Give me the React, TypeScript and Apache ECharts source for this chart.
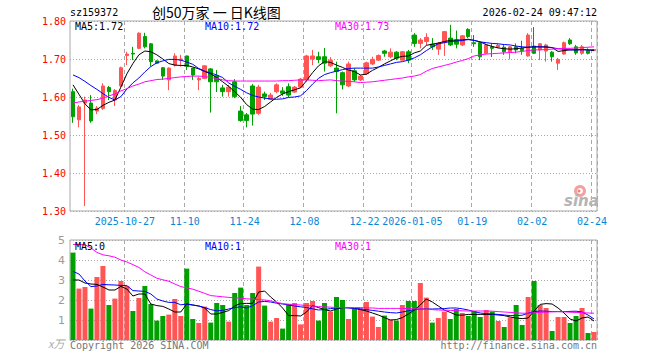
import React, { useEffect, useRef } from 'react';
import * as echarts from 'echarts';

const MONO = '"DejaVu Sans Mono", monospace';

const dates = [
  '2025-10-14', '2025-10-15', '2025-10-16', '2025-10-17', '2025-10-20', '2025-10-21', '2025-10-22', '2025-10-23', '2025-10-24',
  '2025-10-27', '2025-10-28', '2025-10-29', '2025-10-30', '2025-10-31', '2025-11-03', '2025-11-04', '2025-11-05', '2025-11-06', '2025-11-07',
  '2025-11-10', '2025-11-11', '2025-11-12', '2025-11-13', '2025-11-14', '2025-11-17', '2025-11-18', '2025-11-19', '2025-11-20', '2025-11-21',
  '2025-11-24', '2025-11-25', '2025-11-26', '2025-11-27', '2025-11-28', '2025-12-01', '2025-12-02', '2025-12-03', '2025-12-04', '2025-12-05',
  '2025-12-08', '2025-12-09', '2025-12-10', '2025-12-11', '2025-12-12', '2025-12-15', '2025-12-16', '2025-12-17', '2025-12-18', '2025-12-19',
  '2025-12-22', '2025-12-23', '2025-12-24', '2025-12-25', '2025-12-26', '2025-12-29', '2025-12-30', '2025-12-31',
  '2026-01-05', '2026-01-06', '2026-01-07', '2026-01-08', '2026-01-09', '2026-01-12', '2026-01-13', '2026-01-14', '2026-01-15', '2026-01-16',
  '2026-01-19', '2026-01-20', '2026-01-21', '2026-01-22', '2026-01-23', '2026-01-26', '2026-01-27', '2026-01-28', '2026-01-29', '2026-01-30',
  '2026-02-02', '2026-02-03', '2026-02-04', '2026-02-05', '2026-02-06', '2026-02-09', '2026-02-10', '2026-02-11', '2026-02-12', '2026-02-13',
  '2026-02-24',
];

const tickDates = ['2025-10-27', '2025-11-10', '2025-11-24', '2025-12-08', '2025-12-22', '2026-01-05', '2026-01-19', '2026-02-02', '2026-02-24'];
const tickLabels = ['2025-10-27', '11-10', '11-24', '12-08', '12-22', '2026-01-05', '01-19', '02-02', '02-24'];

// [open, close, low, high]
const candles = [
  [1.614, 1.548, 1.532, 1.622], [1.540, 1.574, 1.520, 1.579], [1.584, 1.592, 1.313, 1.601], [1.584, 1.537, 1.532, 1.605],
  [1.563, 1.571, 1.555, 1.576], [1.570, 1.629, 1.566, 1.636], [1.625, 1.614, 1.592, 1.629], [1.592, 1.617, 1.576, 1.621],
  [1.629, 1.677, 1.626, 1.680], [1.709, 1.713, 1.684, 1.719], [1.715, 1.713, 1.697, 1.732], [1.728, 1.768, 1.726, 1.770],
  [1.759, 1.732, 1.728, 1.769], [1.740, 1.693, 1.680, 1.742], [1.695, 1.689, 1.687, 1.697], [1.677, 1.655, 1.645, 1.679],
  [1.645, 1.676, 1.618, 1.678], [1.684, 1.708, 1.680, 1.715], [1.697, 1.700, 1.680, 1.711], [1.708, 1.680, 1.671, 1.709],
  [1.676, 1.658, 1.645, 1.676], [1.645, 1.649, 1.618, 1.654], [1.649, 1.682, 1.647, 1.684], [1.674, 1.640, 1.559, 1.676],
  [1.656, 1.640, 1.613, 1.671], [1.624, 1.614, 1.601, 1.632], [1.614, 1.626, 1.601, 1.632], [1.640, 1.601, 1.597, 1.647],
  [1.563, 1.538, 1.535, 1.576], [1.553, 1.538, 1.520, 1.558], [1.629, 1.555, 1.525, 1.634], [1.557, 1.626, 1.553, 1.632],
  [1.608, 1.601, 1.592, 1.614], [1.594, 1.605, 1.592, 1.611], [1.614, 1.632, 1.610, 1.636], [1.616, 1.610, 1.603, 1.626],
  [1.627, 1.605, 1.599, 1.636], [1.613, 1.626, 1.611, 1.629], [1.626, 1.647, 1.624, 1.650], [1.645, 1.708, 1.640, 1.711],
  [1.700, 1.708, 1.684, 1.724], [1.706, 1.699, 1.689, 1.719], [1.706, 1.689, 1.667, 1.729], [1.682, 1.697, 1.679, 1.705],
  [1.676, 1.667, 1.557, 1.693], [1.664, 1.632, 1.620, 1.667], [1.629, 1.687, 1.626, 1.693], [1.669, 1.645, 1.640, 1.676],
  [1.645, 1.655, 1.642, 1.658], [1.661, 1.690, 1.658, 1.693], [1.687, 1.699, 1.684, 1.706], [1.697, 1.709, 1.695, 1.712],
  [1.721, 1.715, 1.706, 1.724], [1.706, 1.718, 1.702, 1.728], [1.718, 1.702, 1.697, 1.721], [1.697, 1.719, 1.695, 1.721],
  [1.719, 1.697, 1.689, 1.724], [1.763, 1.741, 1.732, 1.768], [1.741, 1.750, 1.728, 1.755], [1.746, 1.757, 1.737, 1.768],
  [1.739, 1.732, 1.724, 1.755], [1.726, 1.741, 1.711, 1.745], [1.743, 1.772, 1.708, 1.774], [1.755, 1.737, 1.734, 1.790],
  [1.750, 1.739, 1.728, 1.775], [1.737, 1.761, 1.734, 1.763], [1.778, 1.759, 1.755, 1.781], [1.743, 1.740, 1.732, 1.763],
  [1.743, 1.706, 1.697, 1.747], [1.715, 1.737, 1.713, 1.740], [1.732, 1.728, 1.705, 1.741], [1.731, 1.736, 1.729, 1.740],
  [1.731, 1.719, 1.711, 1.737], [1.719, 1.732, 1.699, 1.734], [1.732, 1.724, 1.715, 1.741], [1.728, 1.722, 1.711, 1.748],
  [1.708, 1.763, 1.706, 1.768], [1.734, 1.715, 1.713, 1.784], [1.724, 1.740, 1.697, 1.742], [1.721, 1.737, 1.693, 1.740],
  [1.718, 1.706, 1.693, 1.721], [1.689, 1.699, 1.671, 1.703], [1.713, 1.743, 1.711, 1.746], [1.750, 1.740, 1.737, 1.755],
  [1.732, 1.716, 1.711, 1.737], [1.715, 1.732, 1.711, 1.737], [1.722, 1.715, 1.712, 1.728], [1.722, 1.725, 1.721, 1.726],
];

const ma5 = [
  1.632, 1.607, 1.582, 1.566, 1.567, 1.578, 1.586, 1.592, 1.626, 1.661,
  1.688, 1.711, 1.721, 1.719, 1.711, 1.700, 1.688, 1.684, 1.683, 1.683,
  1.679, 1.674, 1.667, 1.661, 1.651, 1.640, 1.628, 1.614, 1.599, 1.580,
  1.568, 1.567, 1.575, 1.587, 1.599, 1.608, 1.614, 1.619, 1.624, 1.643,
  1.664, 1.682, 1.693, 1.691, 1.684, 1.678, 1.671, 1.667, 1.658, 1.660,
  1.670, 1.678, 1.687, 1.695, 1.703, 1.707, 1.708, 1.716, 1.721, 1.736,
  1.739, 1.742, 1.746, 1.749, 1.750, 1.750, 1.752, 1.749, 1.745, 1.738,
  1.733, 1.729, 1.727, 1.726, 1.727, 1.729, 1.731, 1.732, 1.732, 1.732,
  1.730, 1.720, 1.722, 1.724, 1.724, 1.725, 1.724, 1.722,
];

const ma10 = [
  1.658, 1.651, 1.641, 1.630, 1.620, 1.609, 1.599, 1.592, 1.601, 1.621,
  1.637, 1.650, 1.666, 1.680, 1.690, 1.695, 1.699, 1.699, 1.697, 1.692,
  1.686, 1.675, 1.668, 1.663, 1.658, 1.651, 1.637, 1.628, 1.620, 1.611,
  1.604, 1.600, 1.597, 1.595, 1.594, 1.595, 1.599, 1.600, 1.603, 1.617,
  1.634, 1.649, 1.659, 1.664, 1.668, 1.672, 1.675, 1.676, 1.676, 1.676,
  1.676, 1.679, 1.683, 1.687, 1.691, 1.693, 1.697, 1.703, 1.711, 1.722,
  1.732, 1.740, 1.743, 1.746, 1.747, 1.749, 1.751, 1.749, 1.745, 1.743,
  1.741, 1.740, 1.738, 1.737, 1.734, 1.732, 1.731, 1.732, 1.732, 1.731,
  1.730, 1.727, 1.726, 1.724, 1.724, 1.724, 1.724, 1.724,
];

const ma30 = [
  1.584, 1.587, 1.589, 1.591, 1.593, 1.597, 1.603, 1.608, 1.616, 1.622,
  1.629, 1.634, 1.640, 1.643, 1.646, 1.647, 1.649, 1.651, 1.653, 1.654,
  1.655, 1.655, 1.654, 1.651, 1.649, 1.645, 1.643, 1.642, 1.642, 1.642,
  1.642, 1.642, 1.642, 1.642, 1.642, 1.643, 1.643, 1.644, 1.645, 1.645,
  1.644, 1.643, 1.644, 1.645, 1.643, 1.642, 1.641, 1.640, 1.638, 1.639,
  1.640, 1.642, 1.644, 1.646, 1.648, 1.650, 1.653, 1.655, 1.659, 1.668,
  1.675, 1.679, 1.683, 1.687, 1.692, 1.696, 1.701, 1.708, 1.711, 1.713,
  1.714, 1.715, 1.716, 1.717, 1.718, 1.720, 1.722, 1.724, 1.724, 1.725,
  1.726, 1.727, 1.728, 1.728, 1.729, 1.730, 1.731, 1.732,
];

const volumes = [
  4.37, 2.57, 2.65, 1.57, 3.15, 3.7, 1.75, 2.07, 2.95, 2.7,
  1.45, 2.1, 2.7, 1.8, 0.97, 1.2, 1.27, 2.05, 1.2, 3.57,
  1.05, 0.85, 1.67, 0.87, 1.85, 1.75, 0.92, 2.35, 2.62, 1.75,
  2.35, 3.67, 1.72, 0.92, 1.1, 0.57, 1.8, 1.85, 0.78, 1.85,
  1.95, 0.97, 1.85, 1.42, 2.15, 2.0, 1.05, 1.57, 1.57, 1.9,
  1.17, 0.65, 1.22, 1.02, 0.97, 1.75, 1.95, 1.95, 2.85, 2.12,
  0.87, 1.1, 1.42, 1.05, 1.55, 1.35, 1.2, 1.45, 1.15, 1.5,
  1.42, 0.95, 0.65, 1.12, 1.75, 0.75, 2.15, 2.95, 1.75, 1.6,
  0.45, 1.15, 1.15, 0.85, 1.2, 1.6, 0.35, 0.4,
];

const volMa5 = [
  3.0, 3.0, 2.85, 2.8, 2.78, 2.65, 2.5, 2.5, 2.68, 2.55,
  2.2, 2.3, 2.3, 1.8, 1.72, 1.68, 1.55, 1.4, 1.4, 1.8,
  1.75, 1.7, 1.6, 1.3, 1.3, 1.38, 1.47, 1.7, 1.83, 1.83,
  1.83, 2.4, 2.45, 2.15, 1.9, 1.6, 1.22, 1.22, 1.2, 1.4,
  1.72, 1.62, 1.52, 1.45, 1.55, 1.62, 1.62, 1.58, 1.52, 1.45,
  1.35, 1.25, 1.12, 1.0, 1.02, 1.12, 1.3, 1.5, 1.75, 2.05,
  1.9, 1.7, 1.5, 1.38, 1.25, 1.24, 1.28, 1.28, 1.28, 1.28,
  1.28, 1.25, 1.22, 1.15, 1.1, 1.07, 1.1, 1.45, 1.78, 1.82,
  1.8, 1.6, 1.35, 1.05, 0.95, 1.1, 1.15, 0.95,
];

const volMa10 = [
  3.43, 3.3, 2.95, 2.67, 2.7, 2.78, 2.76, 2.75, 2.73, 2.72,
  2.47, 2.45, 2.43, 2.3, 2.05, 1.95, 1.88, 1.88, 1.76, 1.8,
  1.75, 1.7, 1.62, 1.52, 1.46, 1.48, 1.55, 1.62, 1.66, 1.6,
  1.72, 1.9, 1.93, 1.9, 1.84, 1.8, 1.75, 1.7, 1.66, 1.62,
  1.56, 1.5, 1.52, 1.57, 1.6, 1.62, 1.6, 1.58, 1.56, 1.52,
  1.48, 1.44, 1.4, 1.37, 1.35, 1.4, 1.46, 1.52, 1.55, 1.55,
  1.55, 1.56, 1.57, 1.6, 1.6, 1.56, 1.5, 1.42, 1.35, 1.32,
  1.3, 1.28, 1.25, 1.22, 1.22, 1.24, 1.34, 1.42, 1.45, 1.44,
  1.42, 1.42, 1.42, 1.43, 1.44, 1.4, 1.25, 1.05,
];

const volMa30 = [
  4.78, 4.77, 4.76, 4.6, 4.38, 4.26, 4.21, 4.14, 4.0, 3.9,
  3.77, 3.63, 3.41, 3.25, 3.09, 3.01, 2.94, 2.8, 2.67, 2.61,
  2.54, 2.44, 2.33, 2.22, 2.19, 2.16, 2.13, 2.11, 2.09, 2.06,
  2.04, 2.02, 2.0, 1.96, 1.88, 1.82, 1.79, 1.77, 1.75, 1.72,
  1.7, 1.67, 1.66, 1.64, 1.63, 1.62, 1.62, 1.62, 1.62, 1.61,
  1.6, 1.58, 1.58, 1.58, 1.58, 1.58, 1.57, 1.56, 1.55, 1.53,
  1.52, 1.5, 1.49, 1.48, 1.47, 1.46, 1.45, 1.45, 1.45, 1.45,
  1.44, 1.42, 1.4, 1.38, 1.36, 1.34, 1.34, 1.36, 1.38, 1.39,
  1.41, 1.42, 1.41, 1.39, 1.38, 1.37, 1.35, 1.34,
];

const UP = '#ff5555';
const DOWN = '#00a000';
const GRIDC = '#a8a8a8';

export default function App() {
  const ref = useRef<HTMLDivElement>(null);

  useEffect(() => {
    const chart = echarts.init(ref.current!, null, { renderer: 'svg' });
    const tickMap = new Map<number, string>();
    tickDates.forEach((d, i) => tickMap.set(dates.indexOf(d), tickLabels[i]));
    const isTick = (i: number) => tickMap.has(i);

    const makeX = (grid: number, showLabel: boolean) => ({
      type: 'category',
      gridIndex: grid,
      data: dates,
      boundaryGap: true,
      axisLine: { show: false },
      axisTick: { show: false },
      axisLabel: {
        show: showLabel,
        interval: (i: number) => isTick(i),
        formatter: (_v: string, i: number) => tickMap.get(i) ?? '',
        color: '#0b86d6',
        fontFamily: MONO,
        fontSize: 10,
        margin: 5,
        padding: [0, 4, 0, 0],
      },
      splitLine: {
        show: true,
        interval: (i: number) => isTick(i),
        lineStyle: { color: GRIDC, type: [4, 3], width: 1 },
      },
    });

    const txt = (text: string, pos: any, fill: string, font = `10px ${MONO}`) => ({
      type: 'text',
      z: 100,
      ...pos,
      style: { text, font, fill },
    });

    const option: any = {
      animation: false,
      backgroundColor: '#ffffff',
      grid: [
        { left: 70, top: 21, width: 527, height: 190, show: true, borderColor: GRIDC, borderWidth: 1 },
        { left: 70, top: 240, width: 527, height: 100, show: true, borderColor: GRIDC, borderWidth: 1 },
      ],
      xAxis: [makeX(0, true), makeX(1, false)],
      yAxis: [
        {
          type: 'value',
          gridIndex: 0,
          min: 1.3,
          max: 1.8,
          interval: 0.1,
          axisLine: { show: false },
          axisTick: { show: false },
          axisLabel: {
            color: '#ff0000',
            fontFamily: MONO,
            fontSize: 10,
            margin: 4,
            formatter: (v: number) => v.toFixed(2),
          },
          splitLine: { lineStyle: { color: GRIDC, type: [1, 2] } },
        },
        {
          type: 'value',
          gridIndex: 1,
          min: 0,
          max: 5,
          interval: 1,
          axisLine: { show: false },
          axisTick: { show: false },
          axisLabel: {
            color: '#9a9a9a',
            fontFamily: '"DejaVu Sans", sans-serif',
            fontSize: 11,
            margin: 5,
            formatter: (v: number) => (v === 0 ? '' : String(v)),
          },
          splitLine: { lineStyle: { color: GRIDC, type: [1, 2] } },
        },
      ],
      series: [
        {
          type: 'candlestick',
          xAxisIndex: 0,
          yAxisIndex: 0,
          data: candles,
          barWidth: 4,
          itemStyle: { color: UP, color0: DOWN, borderColor: UP, borderColor0: DOWN, borderWidth: 1 },
        },
        { type: 'line', xAxisIndex: 0, yAxisIndex: 0, data: ma5, showSymbol: false, symbol: 'none', lineStyle: { width: 1, color: '#000000' } },
        { type: 'line', xAxisIndex: 0, yAxisIndex: 0, data: ma10, showSymbol: false, symbol: 'none', lineStyle: { width: 1, color: '#0000ff' } },
        { type: 'line', xAxisIndex: 0, yAxisIndex: 0, data: ma30, showSymbol: false, symbol: 'none', lineStyle: { width: 1, color: '#ff00ff' } },
        {
          type: 'bar',
          xAxisIndex: 1,
          yAxisIndex: 1,
          barWidth: 5,
          data: volumes.map((v, i) => ({
            value: v,
            itemStyle: { color: candles[i][1] >= candles[i][0] ? UP : DOWN },
          })),
        },
        { type: 'line', xAxisIndex: 1, yAxisIndex: 1, data: volMa5, showSymbol: false, symbol: 'none', lineStyle: { width: 1, color: '#000000' } },
        { type: 'line', xAxisIndex: 1, yAxisIndex: 1, data: volMa10, showSymbol: false, symbol: 'none', lineStyle: { width: 1, color: '#0000ff' } },
        { type: 'line', xAxisIndex: 1, yAxisIndex: 1, data: volMa30, showSymbol: false, symbol: 'none', lineStyle: { width: 1, color: '#ff00ff' } },
      ],
      graphic: [
        txt('sz159372', { left: 70, top: 7 }, '#000'),
        txt('创50万家 一 日K线图', { left: 152, top: 5 }, '#000', '14px "Noto Sans CJK SC"'),
        txt('2026-02-24 09:47:12', { right: 63, top: 7 }, '#000'),
        txt('MA5:1.72', { left: 75, top: 21 }, '#000'),
        txt('MA10:1.72', { left: 205, top: 21 }, '#0000ff'),
        txt('MA30:1.73', { left: 335, top: 21 }, '#ff00ff'),
        txt('MA5:0', { left: 75, top: 241 }, '#000'),
        txt('MA10:1', { left: 205, top: 241 }, '#0000ff'),
        txt('MA30:1', { left: 335, top: 241 }, '#ff00ff'),
        txt('Copyright 2026 SINA.COM', { left: 70, top: 340 }, '#777777'),
        txt('http://finance.sina.com.cn', { right: 63, top: 340 }, '#777777'),
        txt('x万', { left: 48, top: 337 }, '#aaaaaa', 'italic 11px "Noto Sans CJK SC"'),
        { type: 'ring', z: 100, shape: { cx: 580, cy: 191, r: 6, r0: 3 }, style: { fill: '#f4a0a0' } },
        { type: 'circle', z: 100, shape: { cx: 579, cy: 191, r: 1.5 }, style: { fill: '#f08080' } },
        txt('sina', { left: 564, top: 193 }, '#b4b4b4', 'italic bold 15px "DejaVu Sans", sans-serif'),
      ],
    };

    chart.setOption(option);
    return () => chart.dispose();
  }, []);

  return (
    <div
      ref={ref}
      style={{ position: 'fixed', left: 0, top: 0, width: 660, height: 360, background: '#ffffff' }}
    />
  );
}
